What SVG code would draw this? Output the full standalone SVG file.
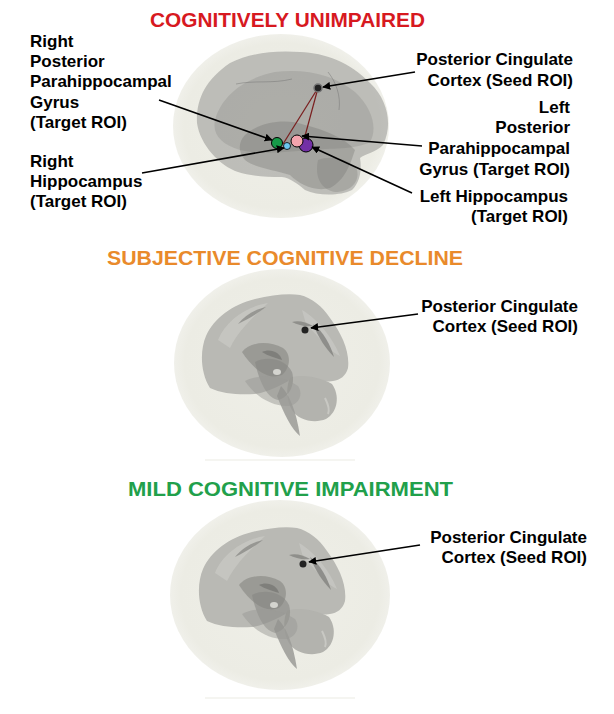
<svg xmlns="http://www.w3.org/2000/svg" xmlns:xlink="http://www.w3.org/1999/xlink" width="614" height="714" viewBox="0 0 614 714">
<style>
.t{font-family:"Liberation Sans",Arial,sans-serif;font-weight:bold;font-size:21px}
.l{font-family:"Liberation Sans",Arial,sans-serif;font-weight:bold;font-size:17px;fill:#000}
.e{text-anchor:end}
.arr{stroke:#000;stroke-width:1.6;fill:none;marker-end:url(#ah)}
.sph{fill:url(#sg)}
</style>
<defs>
<marker id="ah" viewBox="0 0 10 10" refX="9" refY="5" markerWidth="5" markerHeight="5" orient="auto" markerUnits="strokeWidth">
<path d="M0,0 L10,5 L0,10 z" fill="#000"/>
</marker>
<radialGradient id="sg" cx="0.5" cy="0.5" r="0.5">
<stop offset="0" stop-color="#efefe8"/>
<stop offset="0.9" stop-color="#ececE4"/>
<stop offset="1" stop-color="#f0f0ea"/>
</radialGradient>
<g id="brainB">
<path d="M210,388 C200,372 200,350 206,336 C214,318 232,305 255,299 C272,295 288,293 300,295 C312,298 322,306 330,318 C342,334 350,352 348,368 C346,376 340,380 333,381 C320,383 305,379 295,377 C285,383 270,392 255,394 C240,395 222,394 210,388 Z" fill="#b9b9b4"/>
<path d="M218,340 C226,320 248,306 268,303 C255,316 240,328 230,348 Z" fill="#c8c8c3" opacity="0.8"/>
<path d="M302,310 C316,318 332,336 340,356 C330,352 318,336 306,324 Z" fill="#c9c9c4" opacity="0.7"/>
<path d="M313,324 C323,331 331,346 334,357 C326,349 318,337 313,324 Z" fill="#858581" opacity="0.85"/>
<path d="M238,324 C245,315 256,309 266,307 C257,314 248,319 238,324 Z" fill="#8b8b87" opacity="0.8"/>
<path d="M292,322 C298,320 306,322 313,326 C305,327 298,325 292,322 Z" fill="#858581" opacity="0.8"/>
<path d="M290,378 C298,374 318,376 332,384 C340,395 338,412 326,419 C314,424 298,420 292,410 C286,400 286,386 290,378 Z" fill="#b3b3ae"/>
<path d="M281,386 C289,394 296,410 300,436 C292,430 284,414 277,396 Z" fill="#9a9a96" opacity="0.85"/>
<path d="M242,352 C250,342 268,340 283,348 C292,355 290,368 282,375 C270,380 255,372 242,352 Z" fill="#858581" opacity="0.6"/>
<path d="M255,362 C266,356 285,358 292,372 C296,385 288,398 278,400 C268,398 260,385 255,362 Z" fill="#858581" opacity="0.55"/>
<path d="M245,381 C260,373 284,376 298,386 C304,395 298,405 289,406 C274,407 256,398 245,381 Z" fill="#999995" opacity="0.5"/>
<path d="M262,352 C270,348 280,352 282,360 C276,358 268,356 262,352 Z" fill="#6e6e6a" opacity="0.6"/>
<ellipse cx="277" cy="372" rx="4" ry="3" fill="#d4d4cf"/>
<path d="M325,398 C328,404 330,410 328,414" stroke="#c8c8c3" stroke-width="2" fill="none"/>
</g>
</defs>
<rect x="0" y="0" width="614" height="714" fill="#ffffff"/>

<g id="panel-cu">
<ellipse class="sph" cx="281" cy="126" rx="108" ry="92"/>
<path d="M197,123 C196,100 205,80 230,63 C250,53 275,50 300,52 C325,53 350,62 370,83 C388,100 393,125 383,145 C376,152 365,154 360,158 C362,170 360,182 352,190 C340,196 318,196 305,190 C298,184 290,178 282,177 C265,177 250,176 238,172 C220,166 200,145 197,123 Z" fill="#8e8e8c" opacity="0.5"/>
<path d="M215,120 C222,95 245,78 275,72 C305,68 335,75 355,92 C372,108 378,128 370,142 C355,150 330,148 310,150 C285,152 260,155 240,150 C222,145 212,135 215,120 Z" fill="#7a7a78" opacity="0.25"/>
<path d="M245,135 C260,122 285,118 305,125 C325,130 345,138 355,150 C350,165 345,180 330,188 C315,192 300,185 290,175 C275,170 255,168 245,160 C238,152 238,142 245,135 Z" fill="#6a6a68" opacity="0.3"/>
<path d="M318,160 C330,155 350,158 357,170 C360,182 350,192 335,192 C322,190 314,178 318,160 Z" fill="#767674" opacity="0.3"/>
<path d="M236,84 C255,80 272,84 292,79 M328,72 C336,82 341,96 339,110" stroke="#6a6a68" stroke-width="0.8" fill="none" opacity="0.5"/>
<line x1="318" y1="88" x2="283" y2="144" stroke="#7a1f1f" stroke-width="1.2"/>
<line x1="318" y1="88" x2="305" y2="136" stroke="#7a1f1f" stroke-width="1.2"/>
<circle cx="318" cy="88" r="4" fill="#222" stroke="#777" stroke-width="1.5"/>
<circle cx="277" cy="143" r="5.5" fill="#169a48" stroke="#000" stroke-width="1"/>
<circle cx="287" cy="146" r="3.5" fill="#6cc7f0" stroke="#000" stroke-width="0.8"/>
<circle cx="306" cy="145" r="7" fill="#7330a6" stroke="#000" stroke-width="1"/>
<circle cx="297" cy="141" r="6" fill="#f4a4ad" stroke="#000" stroke-width="1"/>
</g>

<g id="panel-scd">
<ellipse class="sph" cx="282" cy="363" rx="108" ry="94"/>
<rect x="205" y="459" width="150" height="2" fill="#f5f5f1"/>
<use xlink:href="#brainB"/>
<circle cx="305" cy="330" r="3.5" fill="#222"/>
</g>

<g id="panel-mci">
<ellipse class="sph" cx="280" cy="595" rx="110" ry="95"/>
<rect x="205" y="697" width="150" height="2" fill="#f5f5f1"/>
<use xlink:href="#brainB" transform="translate(-3,233)"/>
<circle cx="303" cy="564" r="3.5" fill="#222"/>
</g>

<g id="connectors">
<line class="arr" x1="159" y1="100" x2="272" y2="140"/>
<line class="arr" x1="142" y1="173" x2="284" y2="148"/>
<line class="arr" x1="415" y1="72" x2="323" y2="87"/>
<line class="arr" x1="422" y1="146" x2="302" y2="136"/>
<line class="arr" x1="412" y1="193" x2="312" y2="147"/>
<line class="arr" x1="418" y1="314" x2="311" y2="328"/>
<line class="arr" x1="420" y1="545" x2="309" y2="562"/>
</g>

<g id="titles">
<text class="t" x="150" y="27" fill="#d7191f" textLength="275" lengthAdjust="spacingAndGlyphs">COGNITIVELY UNIMPAIRED</text>
<text class="t" x="107" y="265" fill="#e98a2b" textLength="356" lengthAdjust="spacingAndGlyphs">SUBJECTIVE COGNITIVE DECLINE</text>
<text class="t" x="128" y="496" fill="#21a04b" textLength="325" lengthAdjust="spacingAndGlyphs">MILD COGNITIVE IMPAIRMENT</text>
</g>

<g id="labels">
<text class="l" x="30" y="47">Right</text>
<text class="l" x="30" y="67">Posterior</text>
<text class="l" x="30" y="87">Parahippocampal</text>
<text class="l" x="30" y="108">Gyrus</text>
<text class="l" x="30" y="128">(Target ROI)</text>
<text class="l" x="30" y="167">Right</text>
<text class="l" x="30" y="187">Hippocampus</text>
<text class="l" x="30" y="207">(Target ROI)</text>

<text class="l e" x="573" y="65">Posterior Cingulate</text>
<text class="l e" x="573" y="86">Cortex (Seed ROI)</text>
<text class="l e" x="570" y="113">Left</text>
<text class="l e" x="570" y="133">Posterior</text>
<text class="l e" x="570" y="154">Parahippocampal</text>
<text class="l e" x="570" y="175">Gyrus (Target ROI)</text>
<text class="l e" x="568" y="202">Left Hippocampus</text>
<text class="l e" x="568" y="222">(Target ROI)</text>

<text class="l e" x="578" y="312">Posterior Cingulate</text>
<text class="l e" x="578" y="332">Cortex (Seed ROI)</text>

<text class="l e" x="587" y="543">Posterior Cingulate</text>
<text class="l e" x="587" y="563">Cortex (Seed ROI)</text>
</g>
</svg>
